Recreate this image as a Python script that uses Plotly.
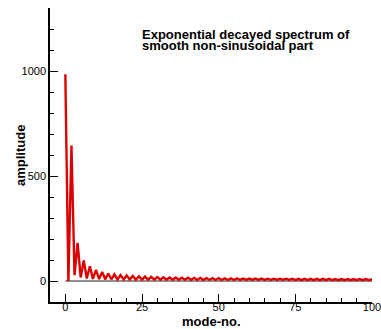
import plotly.graph_objects as go

# Spectrum amplitudes by mode number (0..100)
modes = list(range(101))
amplitude = [
    985, 0, 645, 28, 182, 17, 98, 12, 70, 10,
    53, 9, 43, 8, 36, 8, 32, 7, 28, 7,
    26, 7, 24, 6, 22, 6, 21, 6, 20, 6,
    19, 6, 18, 6, 17, 6, 17, 6, 16, 6,
    16, 5, 15, 5, 15, 5, 14, 5, 14, 5,
    14, 5, 13, 5, 13, 5, 13, 5, 12, 5,
    12, 5, 12, 5, 12, 5, 11, 5, 11, 5,
    11, 5, 11, 5, 11, 4, 10, 4, 10, 4,
    10, 4, 10, 4, 10, 4, 10, 4, 9, 4,
    9, 4, 9, 4, 9, 4, 9, 4, 9, 4,
    9,
]
baseline_x = [0, 100]
baseline_y = [0, 0]

title_lines = ["Exponential decayed spectrum of", "smooth non-sinusoidal part"]
x_ticks = [0, 25, 50, 75, 100]
y_ticks = [0, 500, 1000]

FONT = "Arial, Liberation Sans, sans-serif"

# plot area in pixels: x 50..372, y 8..302
L, R, T, B = 50, 372, 8, 302


def px(x):
    return (x - L) / (R - L)


def py(y):
    return (B - y) / (B - T)


fig = go.Figure()
fig.add_trace(go.Scatter(x=baseline_x, y=baseline_y, mode="lines",
                         line=dict(color="#222222", width=1), hoverinfo="skip"))
fig.add_trace(go.Scatter(x=modes, y=amplitude, mode="lines",
                         line=dict(color="#dd0000", width=2.4)))

axis_common = dict(showgrid=False, zeroline=False, showline=True,
                   linecolor="black", linewidth=1.5, ticks="inside",
                   tickcolor="black", tickwidth=1, mirror=False, automargin=False,
                   ticklabeloverflow="allow",
                   tickfont=dict(family=FONT, size=11, color="black"))

fig.update_xaxes(range=[-5, 100.001], tickmode="array", tickvals=x_ticks, ticklen=8,
                 ticklabelstandoff=-6,
                 minor=dict(dtick=5, tick0=0, ticks="inside", ticklen=4,
                            tickcolor="black", tickwidth=1),
                 **axis_common)
fig.update_yaxes(range=[-100, 1300], tickmode="array", tickvals=y_ticks, ticklen=8,
                 minor=dict(dtick=100, tick0=0, ticks="inside", ticklen=4,
                            tickcolor="black", tickwidth=1),
                 **axis_common)

# axis titles
fig.add_annotation(text="<b>amplitude</b>", xref="paper", yref="paper",
                   x=px(20), y=py(156), xanchor="center", yanchor="middle",
                   textangle=-90, showarrow=False,
                   font=dict(family=FONT, size=13, color="black"))
fig.add_annotation(text="<b>mode-no.</b>", xref="paper", yref="paper",
                   x=px(211), y=py(321), xanchor="center", yanchor="middle",
                   showarrow=False,
                   font=dict(family=FONT, size=13, color="black"))

# two-line heading inside the plot
for i, line in enumerate(title_lines):
    fig.add_annotation(text=f"<b>{line}</b>", xref="paper", yref="paper",
                       x=px(140), y=py(34.0 + 11.2 * i),
                       xanchor="left", yanchor="middle", showarrow=False,
                       font=dict(family=FONT, size=13, color="black"))

fig.update_layout(width=381, height=329, showlegend=False,
                  margin=dict(l=L, r=381 - R, t=T, b=329 - B, pad=0),
                  paper_bgcolor="white", plot_bgcolor="white")

fig.write_html("out.html")
